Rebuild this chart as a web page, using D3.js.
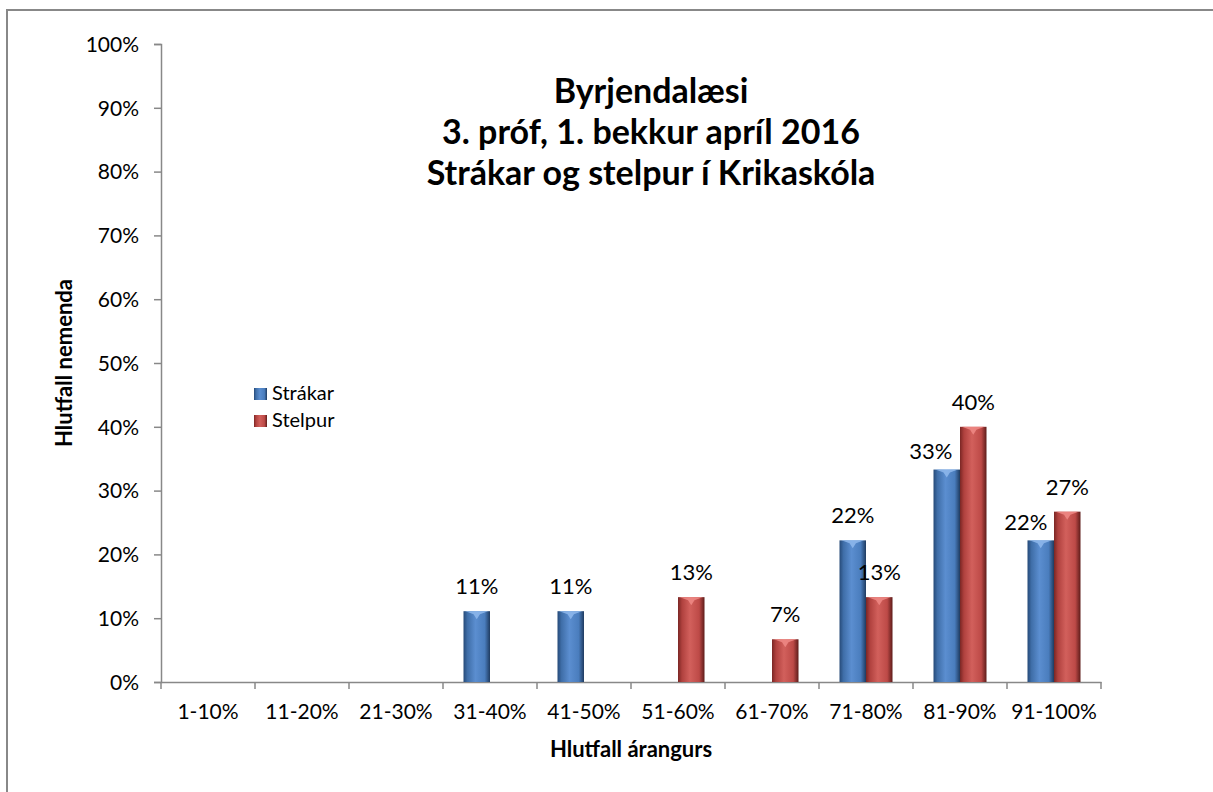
<!DOCTYPE html>
<html>
<head>
<meta charset="utf-8">
<script src="https://cdn.jsdelivr.net/npm/d3@7"></script>
<style>
  body { margin: 0; background: #fff; }
  text { font-family: Lato, "Open Sans", sans-serif; fill: #000; }
</style>
</head>
<body>
<div id="chart"></div>
<script>
// Byrjendalæsi - strákar og stelpur
var width = 1213
var height = 792

// Gögn
const categories = ["1-10%", "11-20%", "21-30%", "31-40%", "41-50%", "51-60%", "61-70%", "71-80%", "81-90%", "91-100%"]
const seriesNames = ["Strákar", "Stelpur"]
const strakar = [0, 0, 0, 11.1, 11.1, 0, 0, 22.2, 33.3, 22.2]
const stelpur = [0, 0, 0, 0, 0, 13.3, 6.7, 13.3, 40, 26.7]
const yTicks = [0, 10, 20, 30, 40, 50, 60, 70, 80, 90, 100]
const titleLines = ["Byrjendalæsi", "3. próf, 1. bekkur apríl 2016", "Strákar og stelpur í Krikaskóla"]

// Hliðrun á merkjum sem skarast (eins og í Excel)
const labelNudge = { "Strákar|81-90%": [-16, 6], "Strákar|91-100%": [-15, 7] }

const svg = d3.select("#chart")
  .append("svg")
    .attr("width", width)
    .attr("height", height)

// Rammi utan um myndina
svg.append("rect")
  .attr("x", 7).attr("y", 10)
  .attr("width", 1400).attr("height", 1000)
  .attr("fill", "none")
  .attr("stroke", "#888")
  .attr("stroke-width", 2)

const x = d3.scaleBand().domain(categories).range([161, 1101])
const xs = d3.scaleBand().domain(seriesNames).range([-26.5, 26.5])
const y = d3.scaleLinear().domain([0, 100]).range([682, 44])

// Litir og hallar fyrir súlurnar
const colors = {
  "Strákar": ["#264a78", "#3f6ea8", "#5b8ed0", "#4a7dbd", "#1f3b60"],
  "Stelpur": ["#7a2624", "#b0413e", "#d2605c", "#bd4a47", "#5e1c1a"]
}
const defs = svg.append("defs")
seriesNames.forEach(function(s, i) {
  const g = defs.append("linearGradient").attr("id", "grad" + i)
    .attr("x1", "0%").attr("x2", "100%").attr("y1", "0%").attr("y2", "0%")
  const c = colors[s]
  g.append("stop").attr("offset", "0%").attr("stop-color", c[0])
  g.append("stop").attr("offset", "15%").attr("stop-color", c[1])
  g.append("stop").attr("offset", "45%").attr("stop-color", c[2])
  g.append("stop").attr("offset", "80%").attr("stop-color", c[3])
  g.append("stop").attr("offset", "100%").attr("stop-color", c[4])
})

// Y ás
const yAxis = svg.append("g")
  .attr("transform", "translate(161,0)")
  .call(d3.axisLeft(y).tickValues(yTicks).tickFormat(d => d + "%").tickSize(7).tickPadding(15))
yAxis.selectAll("path, line").attr("stroke", "#888").attr("stroke-width", 1.5)
yAxis.selectAll("text").style("font-size", "21px").attr("font-family", null).attr("dy", "0.35em")

// X ás
const xAxis = svg.append("g")
  .attr("transform", "translate(0,682)")
  .call(d3.axisBottom(x).tickSize(0).tickPadding(22))
xAxis.select(".domain").attr("stroke", "#888").attr("stroke-width", 1.5)
xAxis.selectAll("text").style("font-size", "21px").attr("font-family", null)
xAxis.selectAll("line.bound")
  .data(categories.map(c => x(c)).concat([x.range()[1]]))
  .join("line")
    .attr("class", "bound")
    .attr("x1", d => d).attr("x2", d => d)
    .attr("y1", 0).attr("y2", 7)
    .attr("stroke", "#888").attr("stroke-width", 1.5)

// Súlur
const rows = []
categories.forEach(function(c, i) {
  rows.push({ cat: c, series: "Strákar", idx: 0, value: strakar[i] })
  rows.push({ cat: c, series: "Stelpur", idx: 1, value: stelpur[i] })
})
const bars = rows.filter(d => d.value > 0)

const barG = svg.append("g")
const bw = xs.bandwidth()
barG.selectAll("rect.bar")
  .data(bars)
  .join("rect")
    .attr("class", "bar")
    .attr("x", d => x(d.cat) + x.bandwidth() / 2 + xs(d.series))
    .attr("y", d => y(d.value))
    .attr("width", bw)
    .attr("height", d => y(0) - y(d.value))
    .attr("fill", d => "url(#grad" + d.idx + ")")

// Ljós brún efst á súlunum
barG.selectAll("path.bevel")
  .data(bars)
  .join("path")
    .attr("class", "bevel")
    .attr("d", function(d) {
      const x0 = x(d.cat) + x.bandwidth() / 2 + xs(d.series)
      const t = y(d.value)
      return "M" + (x0 + 2) + "," + t + "L" + (x0 + bw - 2) + "," + t +
        "L" + (x0 + bw * 0.62) + "," + (t + 3) + "L" + (x0 + bw / 2) + "," + (t + 8) +
        "L" + (x0 + bw * 0.38) + "," + (t + 3) + "Z"
    })
    .attr("fill", d => d.idx == 0 ? "#8fb8ec" : "#f08a86")
    .attr("opacity", 0.85)

// Gildismerki
barG.selectAll("text.lbl")
  .data(bars)
  .join("text")
    .attr("class", "lbl")
    .attr("x", function(d) {
      const n = labelNudge[d.series + "|" + d.cat]
      return x(d.cat) + x.bandwidth() / 2 + xs(d.series) + bw / 2 + (n ? n[0] : 0)
    })
    .attr("y", function(d) {
      const n = labelNudge[d.series + "|" + d.cat]
      return y(d.value) - 17 + (n ? n[1] : 0)
    })
    .attr("text-anchor", "middle")
    .style("font-size", "22px")
    .text(d => Math.round(d.value) + "%")

// Titill
svg.selectAll("text.title")
  .data(titleLines)
  .join("text")
    .attr("class", "title")
    .attr("x", 651)
    .attr("y", (d, i) => 103 + i * 41)
    .attr("text-anchor", "middle")
    .style("font-size", "34px")
    .style("font-weight", "bold")
    .text(d => d)

// Ásaheiti
svg.append("text")
  .attr("x", 631).attr("y", 757)
  .attr("text-anchor", "middle")
  .style("font-size", "22px")
  .style("font-weight", "bold")
  .text("Hlutfall árangurs")

svg.append("text")
  .attr("transform", "translate(72,363) rotate(-90)")
  .attr("text-anchor", "middle")
  .style("font-size", "22px")
  .style("font-weight", "bold")
  .text("Hlutfall nemenda")

// Skýringar
const legend = svg.append("g")
legend.selectAll("rect")
  .data(seriesNames)
  .join("rect")
    .attr("x", 254)
    .attr("y", (d, i) => 388 + i * 27)
    .attr("width", 13)
    .attr("height", 12)
    .attr("fill", (d, i) => "url(#grad" + i + ")")
legend.selectAll("text")
  .data(seriesNames)
  .join("text")
    .attr("x", 272)
    .attr("y", (d, i) => 400 + i * 27)
    .style("font-size", "20px")
    .text(d => d)
</script>
</body>
</html>
